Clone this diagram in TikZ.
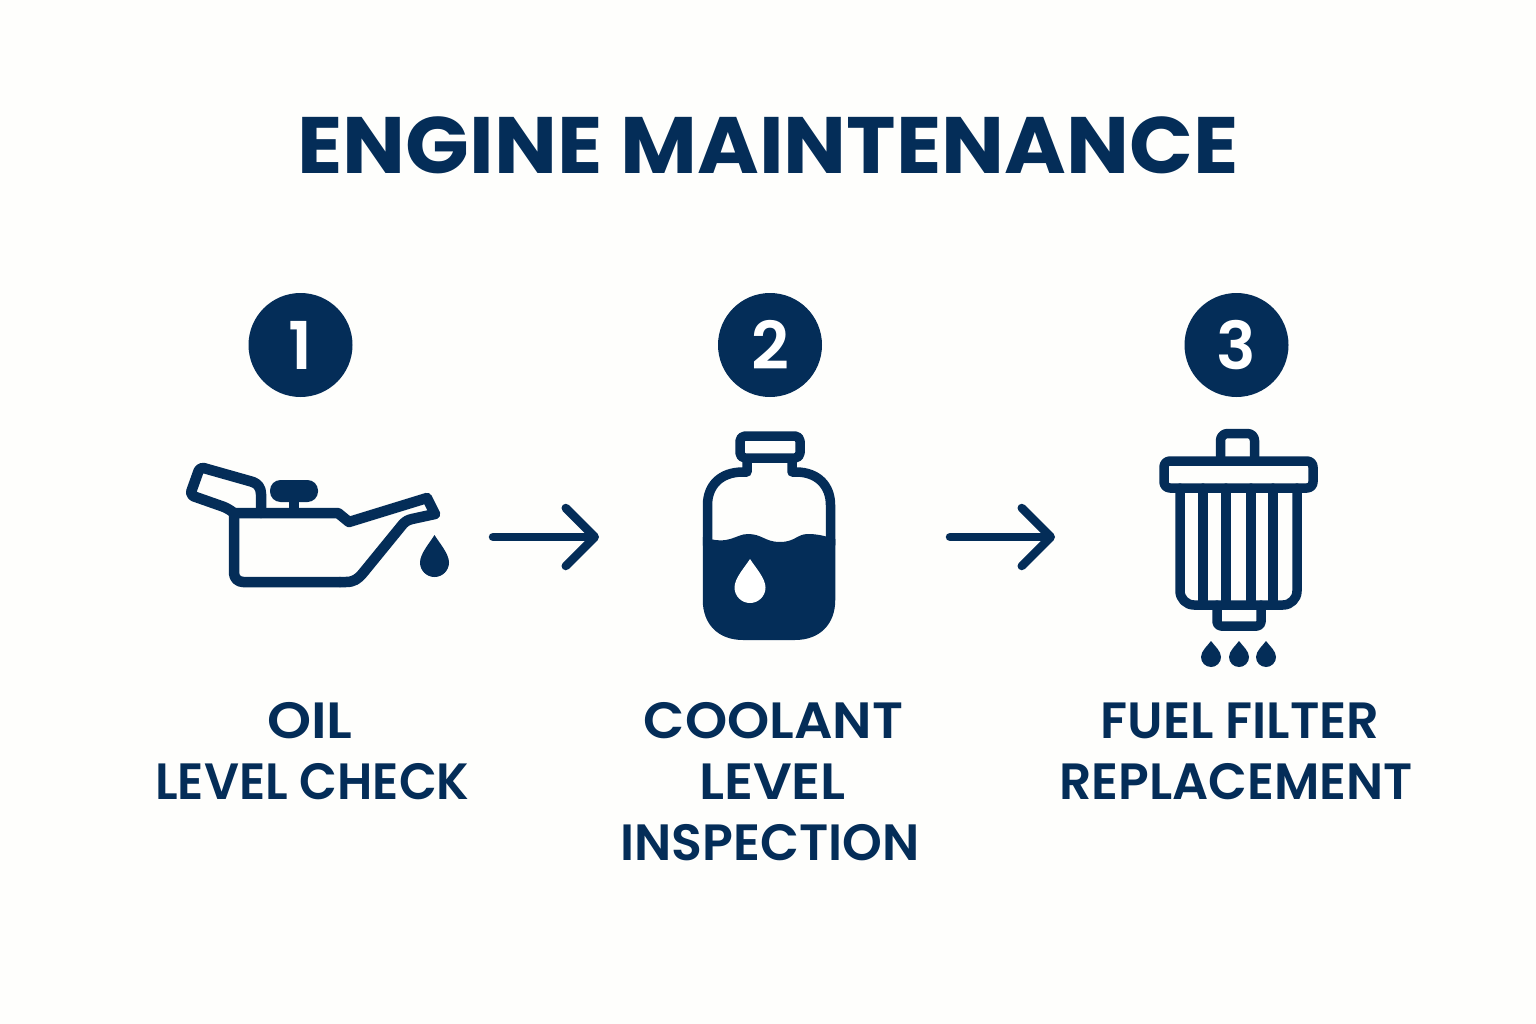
\documentclass[tikz,border=0pt]{standalone}
\usepackage{fontspec}
\setmainfont{Poppins}
\newfontfamily\semifont{Poppins SemiBold}
\usetikzlibrary{arrows.meta}
\definecolor{navy}{RGB}{4,45,88}
\definecolor{paper}{RGB}{254,254,252}
\newcommand{\dropshape}[5]{% cx, cy, r, tip y, colour
  \fill[#5] ({#1-#3},#2) .. controls ({#1-#3},{#2+.5523*#3}) and ({#1-.5523*#3},{#2+#3}) .. (#1,{#2+#3})
    .. controls ({#1+.5523*#3},{#2+#3}) and ({#1+#3},{#2+.5523*#3}) .. ({#1+#3},#2)
    .. controls ({#1+#3},{#2-.6*#3}) and ({#1+.35*#3},{#4+.3*(#2-#4)}) .. (#1,#4)
    .. controls ({#1-.35*#3},{#4+.3*(#2-#4)}) and ({#1-#3},{#2-.6*#3}) .. ({#1-#3},#2) -- cycle;}
\newcommand{\widen}[2]{\scalebox{#1}[1]{#2}}
\tikzset{
  titletext/.style={text=navy,font=\fontsize{80}{80}\selectfont\bfseries,anchor=base,inner sep=0pt},
  labeltext/.style={text=navy,font=\fontsize{51}{51}\selectfont\semifont,anchor=base,inner sep=0pt},
  badge/.style={circle,fill=navy,text=white,minimum size=104pt,inner sep=0pt,font=\fontsize{66}{66}\selectfont\semifont},
  iconline/.style={draw=navy,line width=10.5pt,line join=round,line cap=round},
  thinline/.style={draw=navy,line width=9.5pt,line join=round,line cap=round},
  flowarrow/.style={draw=navy,line width=8.5pt,line cap=round,line join=round,
    -{Straight Barb[length=29pt,width=58pt,line width=8.5pt,round]}},
}
\begin{document}
\begin{tikzpicture}[x=1pt,y=-1pt]
\useasboundingbox (0,0) rectangle (1536,1024);
\fill[paper] (0,0) rectangle (1536,1024);

\node[titletext] (title) at (768,174) {\widen{1.047}{ENGINE MAINTENANCE}};

\node[badge] (b1) at (300.5,345) {1};
\node[badge] (b2) at (770,345) {2};
\node[badge] (b3) at (1236.5,345) {3};

% oil can
\draw[iconline,rounded corners=9pt] (234,513) -- (234,582) -- (340,582);
\draw[iconline] (340,582) -- (346,582) .. controls (354,582) and (358,579) .. (363,573) -- (403,524) .. controls (406,521) and (408,520) .. (412,519) -- (435,514);
\draw[iconline] (234,513) -- (338,513) -- (349,522) -- (427,498) -- (435,514);
\draw[iconline,rounded corners=4pt] (234,513) -- (227,508) -- (190,495) -- (200,467) -- (253,482);
\draw[iconline] (253,482) .. controls (258,484) and (261,488) .. (261,494) -- (261,513);
\fill[navy,rounded corners=10.5pt] (270,480) rectangle (318,502);
\fill[navy] (289,500) rectangle (299,513);
\dropshape{434.5}{562.5}{14.5}{535}{navy}

% bottle
\fill[navy] (702.75,537) .. controls (730,546) and (735,534) .. (748,534)
  .. controls (762,534) and (765,542) .. (780,542)
  .. controls (795,542) and (797,534) .. (808,534)
  .. controls (815,534) and (822,535) .. (835.25,539)
  -- (835.25,600) .. controls (835.25,624) and (820,640) .. (795,640)
  -- (743,640) .. controls (718,640) and (702.75,624) .. (702.75,600) -- cycle;
\draw[thinline] (747,460) -- (747,472) -- (743,472) .. controls (720,472) and (707.5,486) .. (707.5,505) -- (707.5,545);
\draw[thinline] (792,460) -- (792,472) -- (796,472) .. controls (818,472) and (830.5,486) .. (830.5,505) -- (830.5,545);
\draw[thinline,rounded corners=5pt] (740,436) rectangle (800,458);
\dropshape{750}{587.5}{15.5}{559}{white}

% filter
\draw[thinline,rounded corners=7pt] (1220.5,461) -- (1220.5,433.5) -- (1254.5,433.5) -- (1254.5,461);
\draw[thinline,rounded corners=6pt] (1164,461) rectangle (1313,488);
\draw[thinline,rounded corners=14pt] (1180,488) -- (1180,605) -- (1297,605) -- (1297,488);
\foreach \sx in {1203,1226,1251,1273} \draw[thinline] (\sx,488) -- (\sx,605);
\draw[thinline,rounded corners=4pt] (1217,605) -- (1217,626) -- (1261,626) -- (1261,605);
\dropshape{1211}{657}{10}{641}{navy}
\dropshape{1239}{657}{10}{641}{navy}
\dropshape{1266}{657}{10}{641}{navy}

% connectors
\coordinate (a1s) at (493,537);
\coordinate (a1e) at (599,537);
\coordinate (a2s) at (950,537);
\coordinate (a2e) at (1055,537);
\draw[flowarrow] (a1s) -- (a1e);
\draw[flowarrow] (a2s) -- (a2e);

% labels
\node[labeltext] (l1a) at (310,738) {\widen{1.1}{OIL}};
\node[labeltext] (l1b) at (312.5,799) {\widen{.966}{LEVEL CHECK}};
\node[labeltext] (l2a) at (773.5,738) {\widen{1.053}{COOLANT}};
\node[labeltext] (l2b) at (772.5,799) {\widen{1.07}{LEVEL}};
\node[labeltext] (l2c) at (770,860) {\widen{.993}{INSPECTION}};
\node[labeltext] (l3a) at (1240,738) {FUEL FILTER};
\node[labeltext] (l3b) at (1236,799) {\widen{.99}{REPLACEMENT}};
\end{tikzpicture}
\end{document}
